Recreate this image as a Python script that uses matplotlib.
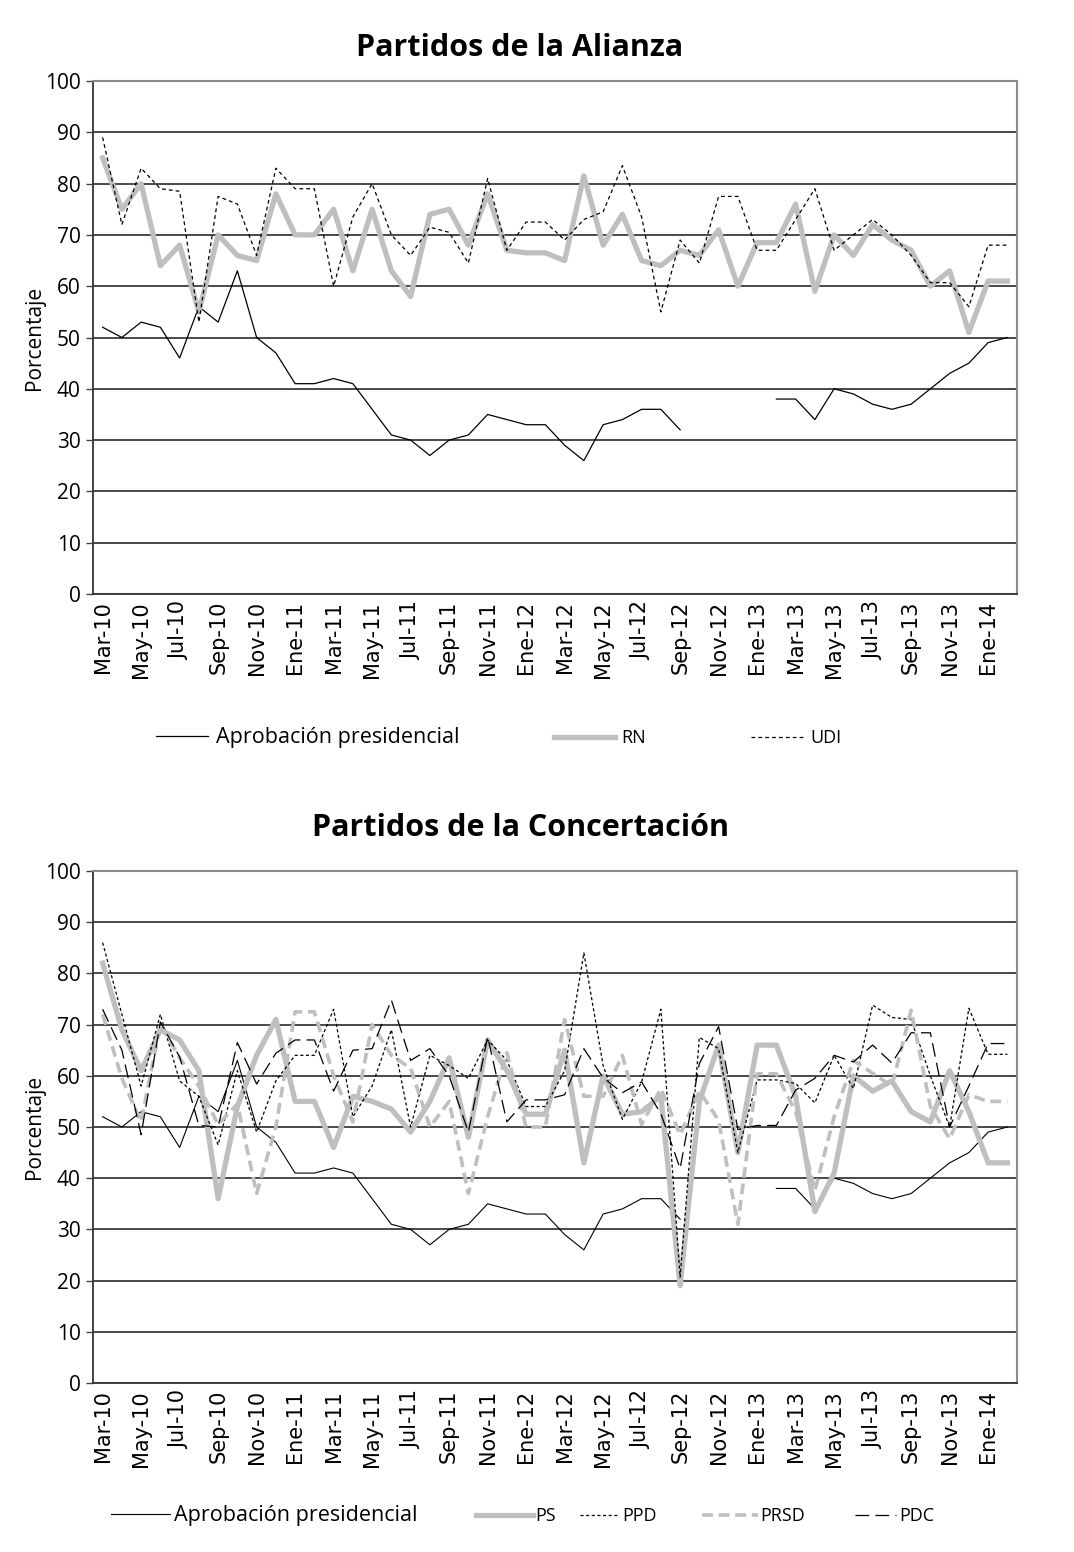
import numpy as np
import matplotlib
matplotlib.use("Agg")
import matplotlib.pyplot as plt

nan = np.nan

months = ["Mar-10", "Abr-10", "May-10", "Jun-10", "Jul-10", "Ago-10", "Sep-10", "Oct-10", "Nov-10", "Dic-10",
          "Ene-11", "Feb-11", "Mar-11", "Abr-11", "May-11", "Jun-11", "Jul-11", "Ago-11", "Sep-11", "Oct-11",
          "Nov-11", "Dic-11", "Ene-12", "Feb-12", "Mar-12", "Abr-12", "May-12", "Jun-12", "Jul-12", "Ago-12",
          "Sep-12", "Oct-12", "Nov-12", "Dic-12", "Ene-13", "Feb-13", "Mar-13", "Abr-13", "May-13", "Jun-13",
          "Jul-13", "Ago-13", "Sep-13", "Oct-13", "Nov-13", "Dic-13", "Ene-14", "Feb-14"]

aprobacion = [52, 50, 53, 52, 46, 56, 53, 63, 50, 47,
              41, 41, 42, 41, 36, 31, 30, 27, 30, 31,
              35, 34, 33, 33, 29, 26, 33, 34, 36, 36,
              32, nan, nan, nan, nan, 38, 38, 34, 40, 39,
              37, 36, 37, 40, 43, 45, 49, 50]

rn = [85, 75, 80, 64, 68, 55, 70, 66, 65, 78,
      70, 70, 75, 63, 75, 63, 58, 74, 75, 68,
      78, 67, 66.5, 66.5, 65, 81.5, 68, 74, 65, 64,
      67, 66, 71, 60, 68.5, 68.5, 76, 59, 70, 66,
      72, 69, 67, 60, 63, 51, 61, 61]

udi = [89, 72, 83, 79, 78.5, 53, 77.5, 76, 66, 83,
       79, 79, 60, 73.5, 80, 70, 66, 71.5, 70.5, 64.5,
       81, 67, 72.5, 72.5, 69, 73, 74.5, 83.5, 73.5, 55,
       69, 64.5, 77.5, 77.5, 67, 67, 73, 79, 67, 70,
       73, 70, 66, 60.7, 60.7, 56, 68, 68]

ps = [82, 69, 61, 69, 67, 61, 36, 54, 64, 71,
      55, 55, 46, 56, 55, 53.5, 49, 55, 63.5, 48,
      67, 61, 52.5, 52.5, 65, 43, 60, 52.5, 53, 56,
      19, 55, 66, 45, 66, 66, 56, 33.5, 41, 60,
      57, 59, 53, 51, 61, 53, 43, 43]

ppd = [86, 72, 58, 72, 59, 56, 46.5, 61, 49, 59,
       64, 64, 73, 52, 58, 69, 50, 64, 62, 59.5,
       67, 63, 54, 54, 61, 84, 62, 51.5, 58.8, 73,
       20.7, 67.5, 65.3, 45, 59.2, 59.2, 58.5, 54.7, 64, 57.5,
       73.8, 71.4, 71, 60, 50, 73.2, 64.2, 64.2]

prsd = [72, 59.5, 51, 70, 63.5, 58, 50.5, 54.5, 37, 50,
        72.5, 72.5, 60, 51, 70, 64, 61.5, 50, 55, 37,
        52, 64.5, 50, 50, 71, 56, 56, 64, 50.5, 57.5,
        48.5, 57, 51.3, 31, 60.4, 60.4, 53, 37.6, 52, 63,
        60.5, 58, 72.8, 54, 47.7, 56.3, 55, 55]

pdc = [73, 65, 48.5, 70.5, 63.7, 50.3, 50, 66.5, 58.4, 64.4,
       67, 67, 57, 65, 65.3, 74.8, 63, 65.3, 60, 49,
       67.6, 51, 55.3, 55.3, 56.3, 65.3, 59.6, 56.7, 58.8, 52.6,
       41.9, 62.4, 69.6, 49.5, 50.3, 50.3, 57.2, 59.5, 64, 62.7,
       66, 62.5, 68.4, 68.4, 50, 58, 66.3, 66.3]

titles = ["Partidos de la Alianza", "Partidos de la Concertación"]
ylabel = "Porcentaje"
legend_top = ["Aprobación presidencial", "RN", "UDI"]
legend_bottom = ["Aprobación presidencial", "PS", "PPD", "PRSD", "PDC"]

plt.rcParams["font.family"] = ["Open Sans", "DejaVu Sans"]

GRAY = "#bfbfbf"
W, H = 1074, 1552
fig = plt.figure(figsize=(W / 100, H / 100), dpi=100)


def make_axes(top_px, bottom_px):
    return fig.add_axes([93 / W, 1 - bottom_px / H, 924 / W, (bottom_px - top_px) / H])


x = np.arange(len(months))


def style_axes(ax):
    ax.set_xlim(-0.5, len(months) - 0.5)
    ax.set_ylim(0, 100)
    ax.set_yticks(np.arange(0, 101, 10))
    ax.yaxis.grid(True, color="#3a3a3a", linewidth=1.3)
    ax.set_axisbelow(True)
    ax.set_xticks(x[::2])
    ax.set_xticklabels(months[::2], rotation=90, family="DejaVu Sans", fontsize=15)
    ax.tick_params(axis="x", length=0, pad=5)
    ax.tick_params(axis="y", length=5, width=1, labelsize=15, pad=4, color="#444444")
    for side in ("top", "right"):
        ax.spines[side].set_color("#8a8a8a")
        ax.spines[side].set_linewidth(1.5)
    for side in ("left", "bottom"):
        ax.spines[side].set_color("#333333")
        ax.spines[side].set_linewidth(1.3)
    ax.set_ylabel(ylabel, fontsize=15, labelpad=0)


def place_entry(handle, label, x0, x1, xt, y, fs):
    px_per_unit = fs * 100 / 72
    leg = fig.legend([handle], [label], loc="center left",
                     bbox_to_anchor=(x0 / W, 1 - y / H), bbox_transform=fig.transFigure,
                     frameon=False, borderpad=0, borderaxespad=0,
                     handlelength=(x1 - x0) / px_per_unit,
                     handletextpad=(xt - x1) / px_per_unit,
                     prop={"size": fs})
    return leg


# Top chart
ax1 = make_axes(81, 594)
l_ap1, = ax1.plot(x, aprobacion, color="black", lw=0.9)
l_rn, = ax1.plot(x, rn, color=GRAY, lw=3.8)
l_udi, = ax1.plot(x, udi, color="black", lw=0.9, linestyle=(0, (3, 2.5)))
style_axes(ax1)
fig.text(520 / W, 1 - 48 / H, titles[0], ha="center", va="center", fontsize=22, fontweight="bold")

place_entry(l_ap1, legend_top[0], 156, 208, 216, 738, 15.5)
place_entry(l_rn, legend_top[1], 554, 615, 621, 738, 13)
place_entry(l_udi, legend_top[2], 751, 803, 810, 738, 13)

# Bottom chart
ax2 = make_axes(871, 1383)
l_ap2, = ax2.plot(x, aprobacion, color="black", lw=0.8)
l_ps, = ax2.plot(x, ps, color=GRAY, lw=3.8)
l_ppd, = ax2.plot(x, ppd, color="black", lw=0.9, linestyle=(0, (2.5, 2)))
l_prsd, = ax2.plot(x, prsd, color=GRAY, lw=2.6, linestyle=(0, (3, 1.6)))
l_pdc, = ax2.plot(x, pdc, color="black", lw=0.9, linestyle=(0, (11, 5)))
style_axes(ax2)
fig.text(520 / W, 1 - 828 / H, titles[1], ha="center", va="center", fontsize=22, fontweight="bold")

place_entry(l_ap2, legend_bottom[0], 111, 170, 174, 1516, 15.5)
place_entry(l_ps, legend_bottom[1], 476, 533, 535, 1516, 13)
place_entry(l_ppd, legend_bottom[2], 580, 619, 622, 1516, 13)
place_entry(l_prsd, legend_bottom[3], 702, 758, 760, 1516, 13)
place_entry(l_pdc, legend_bottom[4], 855, 896, 899, 1516, 13)

fig.savefig("out.png", dpi=100)
